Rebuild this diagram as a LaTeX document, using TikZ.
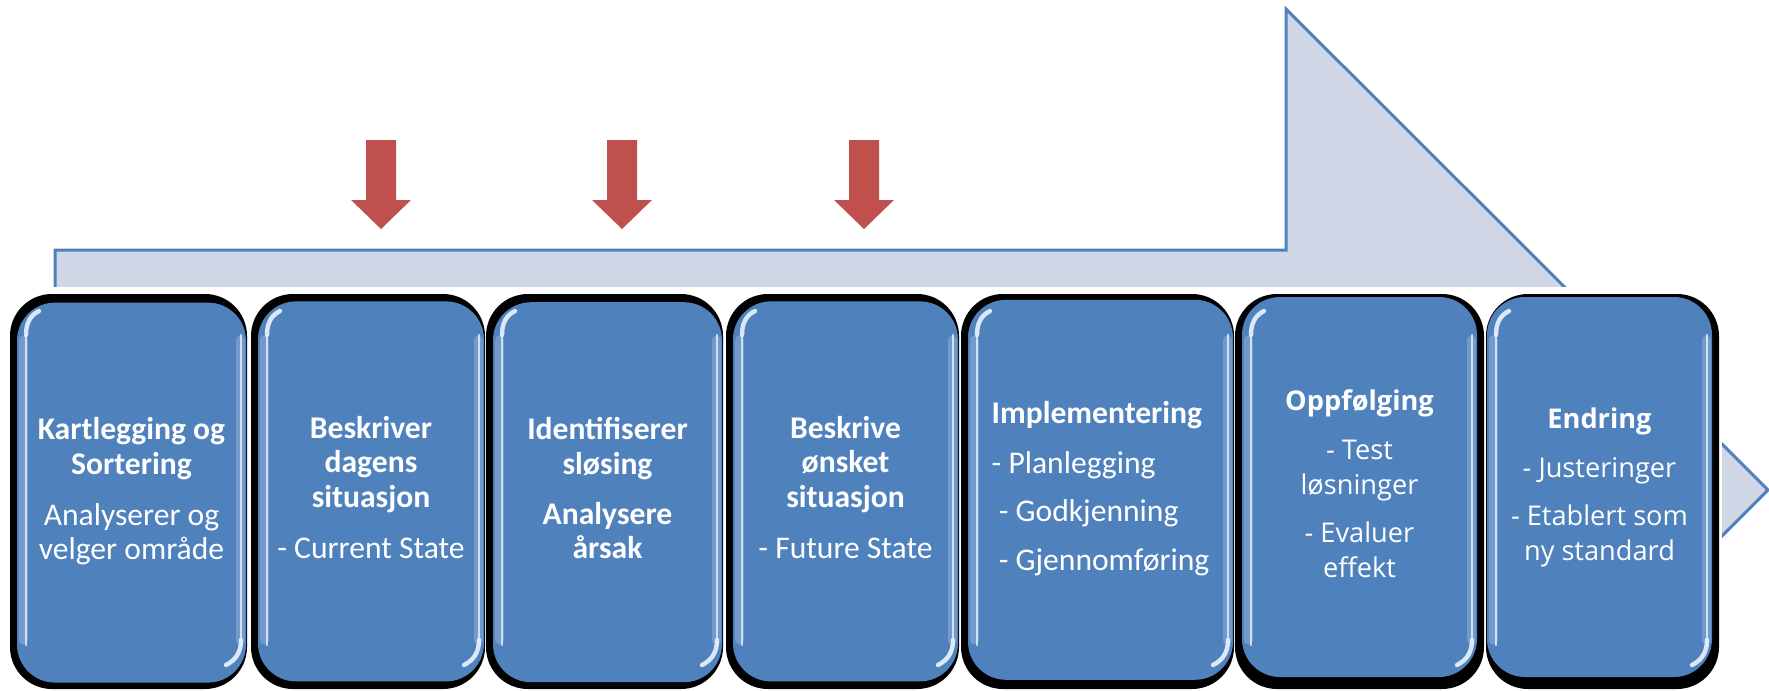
\documentclass[tikz,border=0pt]{standalone}
\usepackage{fontspec}
\newfontfamily\calib{Carlito}
\newfontfamily\osans{Open Sans}
\definecolor{boxblue}{HTML}{4F81BD}
\definecolor{bandfill}{HTML}{CFD6E6}
\definecolor{bandline}{HTML}{4F81BD}
\definecolor{pointer}{HTML}{C0504D}
\definecolor{glint}{HTML}{E2EEFC}

\tikzset{
  procbox/.style={rectangle, rounded corners=19pt, fill=boxblue, inner sep=0pt,
    text=white, align=center, minimum height=190pt},
  boxshade/.style={fill=black, rounded corners=21pt},
  glowband/.style={draw=white, opacity=0.2, line width=4.5pt, line cap=round},
  glowline/.style={draw=glint, opacity=0.85, line width=1.3pt, line cap=round},
  glowarc/.style={draw=glint, opacity=0.95, line width=2.2pt, line cap=round},
  pointerarrow/.style={fill=pointer},
  bigarrow/.style={fill=bandfill, draw=bandline, line width=1.5pt, line join=miter},
  calfont/.style={font=\calib\fontsize{15.8}{17.25}\selectfont},
  osfont/.style={font=\osans\fontsize{13.6}{17.5}\selectfont},
}

% #1 name, #2 left, #3 right, #4/#5 shadow overhang left/right, #6 style, #7 text
\newcommand{\procstep}[7]{%
  \fill[boxshade] ({#2-#4},294) rectangle ({#3+#5},689);
  \node[procbox, minimum width={(#3-#2)*0.5pt}, #6] (#1) at ({(#2+#3)/2},487) {#7};
  \draw[glowband] ({#2+6},340) -- ({#2+6},640);
  \draw[glowline] ({#2+9},335) -- ({#2+9},645);
  \draw[glowarc] ({#2+9},335) .. controls ({#2+9},322) and ({#2+14},315) .. ({#2+22},311);
  \draw[glowband] ({#3-6},340) -- ({#3-6},640);
  \draw[glowline] ({#3-5},335) -- ({#3-5},645);
  \draw[glowarc] ({#3-5},640) .. controls ({#3-5},652) and ({#3-10},660) .. ({#3-20},665);
}

\begin{document}
\begin{tikzpicture}[x=0.5pt, y=-0.5pt]
\useasboundingbox (0,0) rectangle (1769,691);

% wide background arrow
\begin{scope}
  \clip (0,0) rectangle (1769,691);
  \path[bigarrow] (55,250) -- (1286,250) -- (1286,9) -- (1768,490)
    -- (1286,971) -- (1286,730) -- (55,730) -- cycle;
\end{scope}
\fill[white] (0,287) rectangle (1722,691);

% red pointers
\foreach \cx in {381,622,864}
  \fill[pointerarrow] (\cx-15,140) -- (\cx+15,140) -- (\cx+15,200) -- (\cx+30,200)
    -- (\cx,229) -- (\cx-30,200) -- (\cx-15,200) -- cycle;

% process steps
\procstep{s1}{17}{246}{7}{1}{calfont, yshift=-2.8pt}{\strut\textbf{Kartlegging og}\\\textbf{Sortering}\\[8.25pt]Analyserer og\\velger område\strut}
\procstep{s2}{258}{484}{7}{1}{calfont, yshift=-2.2pt}{\strut\textbf{Beskriver}\\\textbf{dagens}\\\textbf{situasjon}\\[8.25pt]- Current State\strut}
\procstep{s3}{493}{722}{7}{1}{calfont, yshift=-2.6pt}{\strut\textbf{Identifiserer}\\\textbf{sløsing}\\[7.75pt]\textbf{Analysere}\\\textbf{årsak}\strut}
\procstep{s4}{733}{958}{7}{1}{calfont, yshift=-2.2pt}{\strut\textbf{Beskrive}\\\textbf{ønsket}\\\textbf{situasjon}\\[8.25pt]- Future State\strut}
\procstep{s5}{968}{1233}{7}{1}{calfont, align=left, yshift=-1.4pt}{\strut\textbf{Implementering}\\[7.75pt]- Planlegging\\[6.75pt]\ - Godkjenning\\[7.25pt]\ - Gjennomføring\strut}
\procstep{s6}{1242}{1477}{7}{7}{osfont}{\strut\textbf{Oppfølging}\\[7pt]- Test\\løsninger\\[6.5pt]- Evaluer\\effekt\strut}
\procstep{s7}{1487}{1712}{1}{7}{osfont}{\strut\textbf{Endring}\\[7pt]- Justeringer\\[6.5pt]- Etablert som\\ny standard\strut}
\end{tikzpicture}
\end{document}
